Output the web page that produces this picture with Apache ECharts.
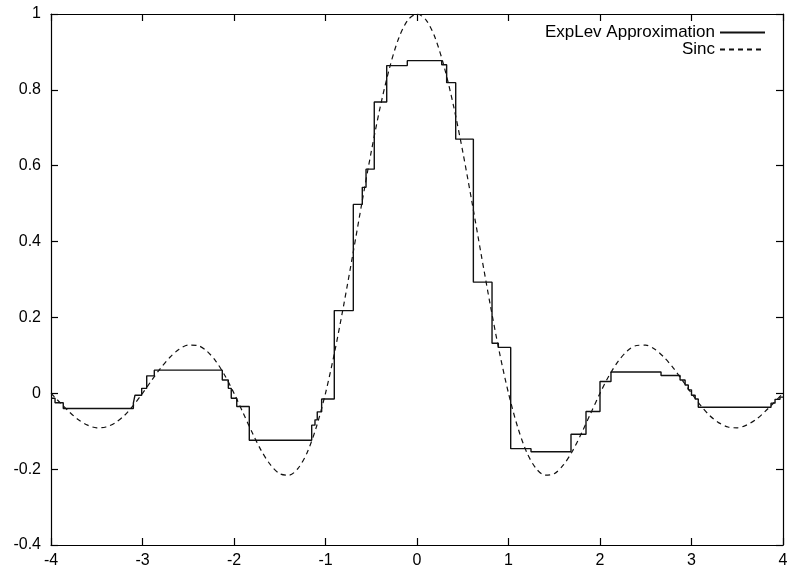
<!DOCTYPE html>
<html>
<head>
<meta charset="utf-8">
<script src="https://cdn.jsdelivr.net/npm/echarts@6/dist/echarts.min.js"></script>
<style>
	html, body { margin: 0; padding: 0; background: #fff; }
	#main { width: 791px; height: 574px; }
</style>
</head>
<body>
<div id="main"></div>
<script>
// ExpLev approximation: x where each step starts, and its level
var stepX = [-4, -3.956, -3.866, -3.10, -3.082, -3.009, -2.954, -2.871,
	-2.128, -2.062, -2.03, -1.970, -1.833,
	-1.151, -1.115, -1.09, -1.042, -0.904, -0.696, -0.598, -0.557, -0.467, -0.331, -0.106,
	0.270, 0.324, 0.423, 0.616, 0.820, 0.889, 1.024, 1.246, 1.683, 1.847, 2.000, 2.120,
	2.667, 2.875, 2.93, 2.965, 3.0, 3.04, 3.074, 3.869, 3.913, 3.967, 4];
var stepY = [-0.013, -0.025, -0.040, -0.026, -0.005, 0.013, 0.046, 0.061,
	0.035, 0.013, -0.013, -0.035, -0.124,
	-0.084, -0.070, -0.049, -0.015, 0.218, 0.498, 0.543, 0.591, 0.768, 0.864, 0.877,
	0.866, 0.819, 0.670, 0.293, 0.132, 0.121, -0.146, -0.154, -0.108, -0.048, 0.031, 0.056,
	0.047, 0.035, 0.022, 0.009, -0.005, -0.015, -0.037, -0.026, -0.016, -0.010, -0.010];

// Sinc curve
var sincX = [-4, -3.9, -3.8, -3.7, -3.6, -3.5, -3.4, -3.3, -3.2, -3.1,
	-3, -2.9, -2.8, -2.7, -2.6, -2.5, -2.4, -2.3, -2.2, -2.1,
	-2, -1.9, -1.8, -1.7, -1.6, -1.5, -1.4, -1.3, -1.2, -1.1,
	-1, -0.9, -0.8, -0.7, -0.6, -0.5, -0.4, -0.3, -0.2, -0.1,
	0, 0.1, 0.2, 0.3, 0.4, 0.5, 0.6, 0.7, 0.8, 0.9,
	1, 1.1, 1.2, 1.3, 1.4, 1.5, 1.6, 1.7, 1.8, 1.9,
	2, 2.1, 2.2, 2.3, 2.4, 2.5, 2.6, 2.7, 2.8, 2.9,
	3, 3.1, 3.2, 3.3, 3.4, 3.5, 3.6, 3.7, 3.8, 3.9, 4];
var sincY = [0, -0.025, -0.049, -0.070, -0.084, -0.091, -0.089, -0.078, -0.059, -0.032,
	0, 0.034, 0.067, 0.095, 0.116, 0.127, 0.126, 0.112, 0.085, 0.047,
	0, -0.052, -0.104, -0.152, -0.189, -0.212, -0.216, -0.198, -0.156, -0.089,
	0, 0.109, 0.234, 0.368, 0.505, 0.637, 0.757, 0.858, 0.936, 0.984,
	1, 0.984, 0.936, 0.858, 0.757, 0.637, 0.505, 0.368, 0.234, 0.109,
	0, -0.089, -0.156, -0.198, -0.216, -0.212, -0.189, -0.152, -0.104, -0.052,
	0, 0.047, 0.085, 0.112, 0.126, 0.127, 0.116, 0.095, 0.067, 0.034,
	0, -0.032, -0.059, -0.078, -0.089, -0.091, -0.084, -0.070, -0.049, -0.025, 0];

var seriesNames = ['ExpLev Approximation', 'Sinc'];

function pairs(xs, ys) {
	var res = [];
	for (var i = 0; i < xs.length; i++) res.push([xs[i], ys[i]]);
	return res;
}

var chart = echarts.init(document.getElementById('main'));

var font = 'Liberation Sans, Arial, Helvetica, sans-serif';
var axisLine = { show: true, onZero: false, lineStyle: { color: '#000', width: 1.2 } };
var tick = { show: true, inside: true, length: 7, lineStyle: { color: '#000', width: 1.2 } };

var option = {
	animation: false,
	backgroundColor: '#fff',
	grid: { left: 51, right: 8, top: 14, bottom: 29 },
	legend: {
		orient: 'vertical',
		right: 20,
		top: 19,
		align: 'right',
		itemWidth: 45,
		itemHeight: 10,
		itemGap: 0,
		itemStyle: { opacity: 0 },
		textStyle: { fontFamily: font, fontSize: 17, color: '#000' },
		data: seriesNames
	},
	xAxis: [{
		type: 'value',
		min: -4, max: 4, interval: 1,
		axisLine: axisLine, axisTick: tick,
		axisLabel: { color: '#000', fontFamily: font, fontSize: 16, margin: 8 },
		splitLine: { show: false }
	}, {
		type: 'value', position: 'top',
		min: -4, max: 4, interval: 1,
		axisLine: axisLine, axisTick: tick,
		axisLabel: { show: false },
		splitLine: { show: false }
	}],
	yAxis: [{
		type: 'value',
		min: -0.4, max: 1, interval: 0.2,
		axisLine: axisLine, axisTick: tick,
		axisLabel: {
			color: '#000', fontFamily: font, fontSize: 16, margin: 10,
			formatter: function (v) { return String(Math.round(v * 10) / 10); }
		},
		splitLine: { show: false }
	}, {
		type: 'value', position: 'right',
		min: -0.4, max: 1, interval: 0.2,
		axisLine: axisLine, axisTick: tick,
		axisLabel: { show: false },
		splitLine: { show: false }
	}],
	series: [{
		name: seriesNames[0],
		type: 'line',
		step: 'end',
		symbol: 'none',
		color: '#000',
		lineStyle: { color: '#111', width: 1.4 },
		data: pairs(stepX, stepY)
	}, {
		name: seriesNames[1],
		type: 'line',
		smooth: 0.3,
		symbol: 'none',
		color: '#000',
		lineStyle: { color: '#111', width: 1.2, type: [5, 4] },
		data: pairs(sincX, sincY)
	}]
};

chart.setOption(option);
</script>
</body>
</html>
